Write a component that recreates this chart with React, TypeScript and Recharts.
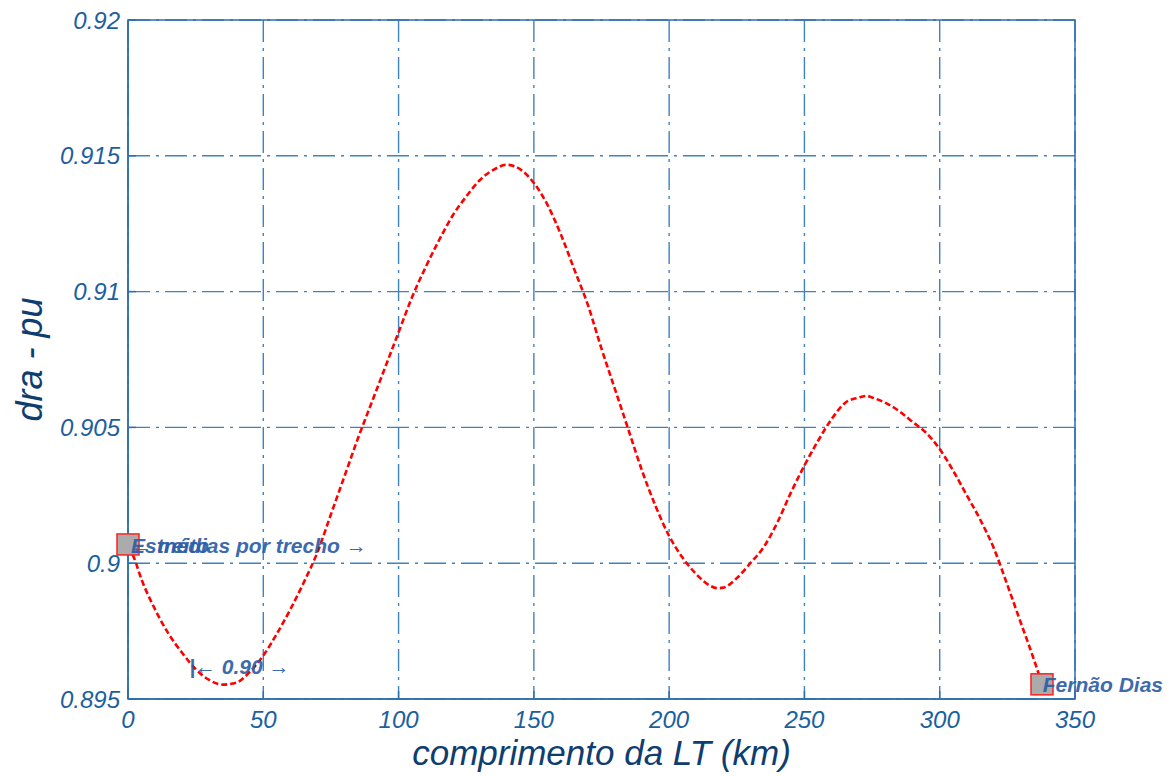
import React from 'react';
import {
  ComposedChart,
  Line,
  XAxis,
  YAxis,
  CartesianGrid,
  ReferenceArea,
  ReferenceDot,
  Label,
} from 'recharts';

// ---- data ----
const kmValues = [
  0, 2, 5, 10, 15, 20, 25, 30, 35, 40, 45, 50, 55, 60, 65, 70, 75, 80, 85, 90,
  95, 100, 105, 110, 115, 120, 125, 130, 135, 140, 145, 150, 155, 160, 165, 170,
  175, 180, 185, 190, 195, 200, 205, 210, 215, 218, 220, 225, 230, 235, 240,
  245, 250, 255, 260, 265, 270, 273, 275, 280, 285, 290, 295, 300, 305, 310,
  315, 320, 325, 330, 335, 337,
];
const draValues = [
  0.9006, 0.90025, 0.8994, 0.8983, 0.8974, 0.8967, 0.8961, 0.8957, 0.89553,
  0.8956, 0.896, 0.8966, 0.8974, 0.8983, 0.8993, 0.9004, 0.9018, 0.9032,
  0.9046, 0.9059, 0.9072, 0.9085, 0.9098, 0.9109, 0.9119, 0.9128, 0.9135,
  0.9141, 0.91448, 0.91467, 0.9145, 0.914, 0.9132, 0.9121, 0.9108, 0.9095,
  0.9079, 0.9064, 0.9049, 0.9034, 0.9021, 0.901, 0.9002, 0.8996, 0.89918,
  0.89908, 0.8991, 0.89945, 0.9, 0.9006, 0.9015, 0.9026, 0.9036, 0.9045,
  0.9053, 0.9059, 0.9061, 0.90616, 0.9061, 0.9059, 0.9056, 0.9052, 0.9048,
  0.9042, 0.9034, 0.9025, 0.9016, 0.90055, 0.8992, 0.8978, 0.8964, 0.8958,
];

const xTicks = [0, 50, 100, 150, 200, 250, 300, 350];
const yTicks = [0.895, 0.9, 0.905, 0.91, 0.915, 0.92];
const xTickLabels = ['0', '50', '100', '150', '200', '250', '300', '350'];
const yTickLabels = ['0.895', '0.9', '0.905', '0.91', '0.915', '0.92'];

const markerKm = [0, 337.8];
const markerDra = [0.90069, 0.89554];

const noteTexts = ['Estreito', '\u2190 médias por trecho \u2192', '|\u2190 0.90 \u2192', 'Fernão Dias'];
const noteKm = [1.1, 1.1, 22.6, 338.1];
const noteDra = [0.90038, 0.90038, 0.89593, 0.89524];

const xTitle = 'comprimento da LT (km)';
const yTitle = 'dra - pu';

// ---- tables built from arrays ----
const lineData = kmValues.map((km, i) => ({ km, dra: draValues[i] }));
const markerData = markerKm.map((km, i) => ({ km, dra: markerDra[i] }));
const noteData = noteTexts.map((text, i) => ({ km: noteKm[i], dra: noteDra[i], text }));

const FONT = '"Liberation Sans", Arial, sans-serif';
const TICK_COLOR = '#1c5f9e';
const TITLE_COLOR = '#0e3d70';
const FRAME_COLOR = '#2f6fad';
const GRID_COLOR = '#3f82c0';
const NOTE_COLOR = '#2d5ea6';

const fmtX = (v: number) => xTickLabels[xTicks.indexOf(v)] ?? String(v);
const fmtY = (v: number) => {
  const i = yTicks.findIndex((t) => Math.abs(t - v) < 1e-9);
  return i >= 0 ? yTickLabels[i] : String(v);
};

const MarkerShape = (props: any) => {
  const { cx, cy } = props;
  if (cx == null || cy == null) return null;
  return (
    <rect
      x={cx - 11}
      y={cy - 10.5}
      width={22}
      height={21}
      fill="#ababab"
      stroke="#ff2020"
      strokeWidth={1.5}
    />
  );
};

const makeNoteShape = (text: string) => (props: any) => {
  const { cx, cy } = props;
  if (cx == null || cy == null) return null;
  return (
    <text
      x={cx}
      y={cy}
      fill={NOTE_COLOR}
      fontFamily={FONT}
      fontSize={21}
      fontStyle="italic"
      fontWeight="bold"
      opacity={0.92}
    >
      {text}
    </text>
  );
};

export default function App() {
  return (
    <div style={{ position: 'absolute', left: 0, top: 0, background: '#fff' }}>
      <ComposedChart
        width={1172}
        height={776}
        data={lineData}
        margin={{ top: 20, right: 97, bottom: 0, left: 0 }}
      >
        <CartesianGrid
          stroke={GRID_COLOR}
          strokeWidth={1.4}
          strokeDasharray="22 6 3 6"
          verticalValues={xTicks}
          horizontalValues={yTicks}
        />
        <XAxis
          dataKey="km"
          type="number"
          domain={[0, 350]}
          ticks={xTicks}
          allowDataOverflow
          height={77}
          axisLine={{ stroke: FRAME_COLOR, strokeWidth: 1.5 }}
          tickLine={{ stroke: FRAME_COLOR, strokeWidth: 1.5 }}
          tickSize={-8}
          tickMargin={20}
          tickFormatter={fmtX}
          tick={{ fill: TICK_COLOR, fontSize: 24, fontStyle: 'italic', fontFamily: FONT }}
        >
          <Label
            content={(p: any) => {
              const vb = p.viewBox || {};
              return (
                <text
                  x={vb.x + vb.width / 2}
                  y={vb.y + 66}
                  textAnchor="middle"
                  fill={TITLE_COLOR}
                  fontFamily={FONT}
                  fontSize={35}
                  fontStyle="italic"
                >
                  {xTitle}
                </text>
              );
            }}
          />
        </XAxis>
        <YAxis
          type="number"
          domain={[0.895, 0.92]}
          ticks={yTicks}
          allowDataOverflow
          width={128}
          axisLine={{ stroke: FRAME_COLOR, strokeWidth: 1.5 }}
          tickLine={{ stroke: FRAME_COLOR, strokeWidth: 1.5 }}
          tickSize={-8}
          tickMargin={16}
          tickFormatter={fmtY}
          tick={{ fill: TICK_COLOR, fontSize: 24, fontStyle: 'italic', fontFamily: FONT }}
        >
          <Label
            content={(p: any) => {
              const vb = p.viewBox || {};
              const cx = vb.x + 29;
              const cy = vb.y + vb.height / 2;
              return (
                <text
                  x={cx}
                  y={cy}
                  transform={`rotate(-90 ${cx} ${cy})`}
                  textAnchor="middle"
                  dominantBaseline="central"
                  fill={TITLE_COLOR}
                  fontFamily={FONT}
                  fontSize={36}
                  fontStyle="italic"
                >
                  {yTitle}
                </text>
              );
            }}
          />
        </YAxis>
        <ReferenceArea
          x1={0}
          x2={350}
          y1={0.895}
          y2={0.92}
          fill="none"
          fillOpacity={0}
          stroke={FRAME_COLOR}
          strokeWidth={1.5}
          ifOverflow="visible"
        />
        <Line
          type="monotone"
          dataKey="dra"
          stroke="#ff0000"
          strokeWidth={2.6}
          strokeDasharray="6 3"
          dot={false}
          activeDot={false}
          isAnimationActive={false}
        />
        {markerData.map((m, i) => (
          <ReferenceDot
            key={`m${i}`}
            x={m.km}
            y={m.dra}
            r={11}
            ifOverflow="visible"
            shape={MarkerShape}
          />
        ))}
        {noteData.map((n, i) => (
          <ReferenceDot
            key={`n${i}`}
            x={n.km}
            y={n.dra}
            r={1}
            ifOverflow="visible"
            shape={makeNoteShape(n.text)}
          />
        ))}
      </ComposedChart>
    </div>
  );
}
